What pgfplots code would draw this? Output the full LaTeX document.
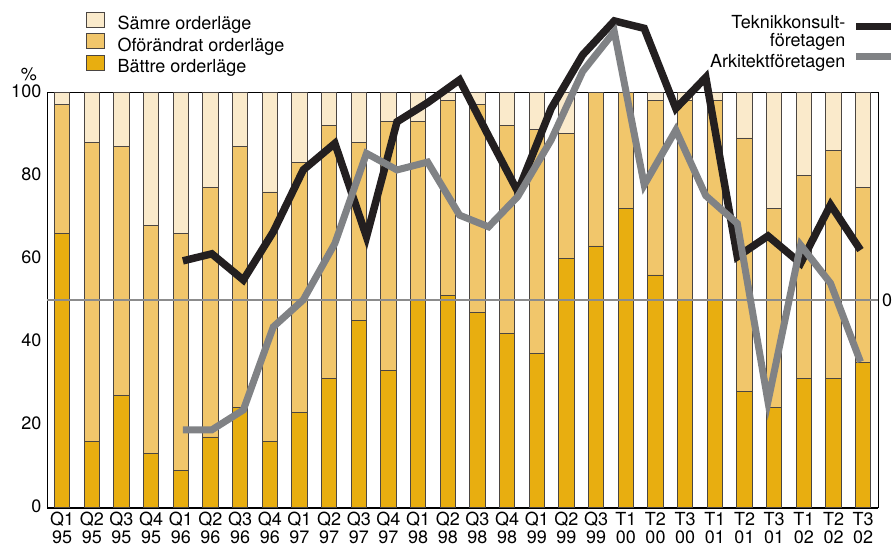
\documentclass[border=0pt]{standalone}
\usepackage{pgfplots}
\usepackage{pgfplotstable}
\pgfplotsset{compat=1.18}
\usepackage{fontspec}
\setmainfont{TeX Gyre Heros}
\definecolor{cB}{HTML}{E8AE10}
\definecolor{cO}{HTML}{F1C66B}
\definecolor{cS}{HTML}{FAEACB}
\definecolor{cTek}{HTML}{231F20}
\definecolor{cArk}{HTML}{808285}
\definecolor{cRef}{HTML}{8C8C8C}
\definecolor{cEdge}{HTML}{4A4542}

\pgfplotstableread{
x B O S
0 66 31 3
1 16 72 12
2 27 60 13
3 13 55 32
4 9 57 34
5 17 60 23
6 24 63 13
7 16 60 24
8 23 60 17
9 31 61 8
10 45 43 12
11 33 60 7
12 50 43 7
13 51 47 2
14 47 50 3
15 42 50 8
16 37 54 9
17 60 30 10
18 63 37 0
19 72 28 0
20 56 42 2
21 50 48 2
22 50 48 2
23 28 61 11
24 24 48 28
25 31 49 20
26 31 55 14
27 35 42 23
}\bars

\pgfplotstableread{
x tek ark
4.070 59.4 18.7
5.045 61.1 18.7
6.108 54.8 23.5
7.117 66.4 43.5
8.126 81.3 50.0
9.193 87.7 63.6
10.259 65.2 85.3
11.288 92.9 81.3
12.321 97.5 83.2
13.397 103.0 70.4
14.373 89.5 67.6
15.358 76.1 74.9
16.482 96.1 88.5
17.544 109.0 105.0
18.611 117.2 114.6
19.620 115.4 77.7
20.686 96.1 90.9
21.695 103.6 75.1
22.758 60.4 68.4
23.791 65.4 25.5
24.891 58.8 63.2
25.900 72.9 54.0
26.909 62.0 35.1
}\lines

\begin{document}
\begin{tikzpicture}
\useasboundingbox (-47.3pt,-39.5pt) rectangle (845.7pt,507.5pt);
\begin{axis}[
  scale only axis, width=830.7pt, height=415.2pt,
  at={(0pt,0pt)}, anchor=south west,
  xmin=-0.5, xmax=27.5, ymin=0, ymax=100,
  ybar stacked, bar width=0.515,
  clip=false,
  xtick={0,...,27},
  xticklabels={{Q1\\95},{Q2\\95},{Q3\\95},{Q4\\95},{Q1\\96},{Q2\\96},{Q3\\96},{Q4\\96},{Q1\\97},{Q2\\97},{Q3\\97},{Q4\\97},{Q1\\98},{Q2\\98},{Q3\\98},{Q4\\98},{Q1\\99},{Q2\\99},{Q3\\99},{T1\\00},{T2\\00},{T3\\00},{T1\\01},{T2\\01},{T3\\01},{T1\\02},{T2\\02},{T3\\02}},
  xticklabel style={align=center, font=\fontsize{18}{18}\selectfont, yshift=-1.5pt},
  ytick={0,20,40,60,80,100},
  yticklabel style={font=\fontsize{18}{18}\selectfont, xshift=-2.5pt, yshift=1.5pt},
  major tick length=0pt,
  /pgf/number format/assume math mode=true,
  axis line style={line width=1pt, black},
  reverse legend,
  legend cell align=left,
  legend style={at={(0.0466,1.1934)}, anchor=north west, draw=none, fill=none,
    inner sep=0pt, outer sep=0pt, row sep=-0.5pt, column sep=12.7pt,
    font=\fontsize{18}{20}\selectfont,
    nodes={inner sep=0pt, text height=12.8pt, text depth=4.2pt}},
]
\addplot[fill=cB, draw=cEdge, line width=0.8pt,
  legend image code/.code={\draw[fill=cB, draw=cEdge, line width=0.8pt] (0pt,-2pt) rectangle (18pt,13pt);}]
  table[x=x, y=B]{\bars};
\addlegendentry{Bättre orderläge}
\addplot[fill=cO, draw=cEdge, line width=0.8pt,
  legend image code/.code={\draw[fill=cO, draw=cEdge, line width=0.8pt] (0pt,-2pt) rectangle (18pt,13pt);}]
  table[x=x, y=O]{\bars};
\addlegendentry{Oförändrat orderläge}
\addplot[fill=cS, draw=cEdge, line width=0.8pt,
  legend image code/.code={\draw[fill=cS, draw=cEdge, line width=0.8pt] (0pt,-2pt) rectangle (18pt,13pt);}]
  table[x=x, y=S]{\bars};
\addlegendentry{Sämre orderläge}
\draw[line width=2pt, black] (rel axis cs:0,0) -- (rel axis cs:1,0);
\node[font=\fontsize{18}{18}\selectfont, inner sep=0pt] at (rel axis cs:0,1) [xshift=-18.5pt, yshift=18.5pt] {\%};
\node[font=\fontsize{18}{18}\selectfont, anchor=west, inner sep=0pt] at (rel axis cs:1,0.5) [xshift=4pt] {0};
\end{axis}
\begin{axis}[
  scale only axis, width=830.7pt, height=415.2pt,
  at={(0pt,0pt)}, anchor=south west,
  xmin=-0.5, xmax=27.5, ymin=0, ymax=100,
  hide axis, clip=false,
  legend plot pos=right, legend cell align=right,
  legend style={at={(1.0205,1.1862)}, anchor=north east, draw=none, fill=none,
    inner sep=0pt, outer sep=0pt, row sep=5pt, column sep=7.3pt,
    font=\fontsize{18}{18.4}\selectfont,
    nodes={inner sep=0pt, align=right}},
]
\addplot[cRef, line width=2.5pt, forget plot] coordinates {(-0.5,50) (27.5,50)};
\addplot[cTek, line width=7.5pt, line join=miter, line cap=butt,
  legend image code/.code={\draw[cTek, line width=7.3pt] (0pt,5pt) -- (35pt,5pt);}]
  table[x=x, y=tek]{\lines};
\addlegendentry{Teknikkonsult-\\företagen}
\addplot[cArk, line width=7pt, line join=miter, line cap=butt,
  legend image code/.code={\draw[cArk, line width=7.3pt] (0pt,5pt) -- (35pt,5pt);}]
  table[x=x, y=ark]{\lines};
\addlegendentry{Arkitektföretagen}
\end{axis}
\end{tikzpicture}
\end{document}
